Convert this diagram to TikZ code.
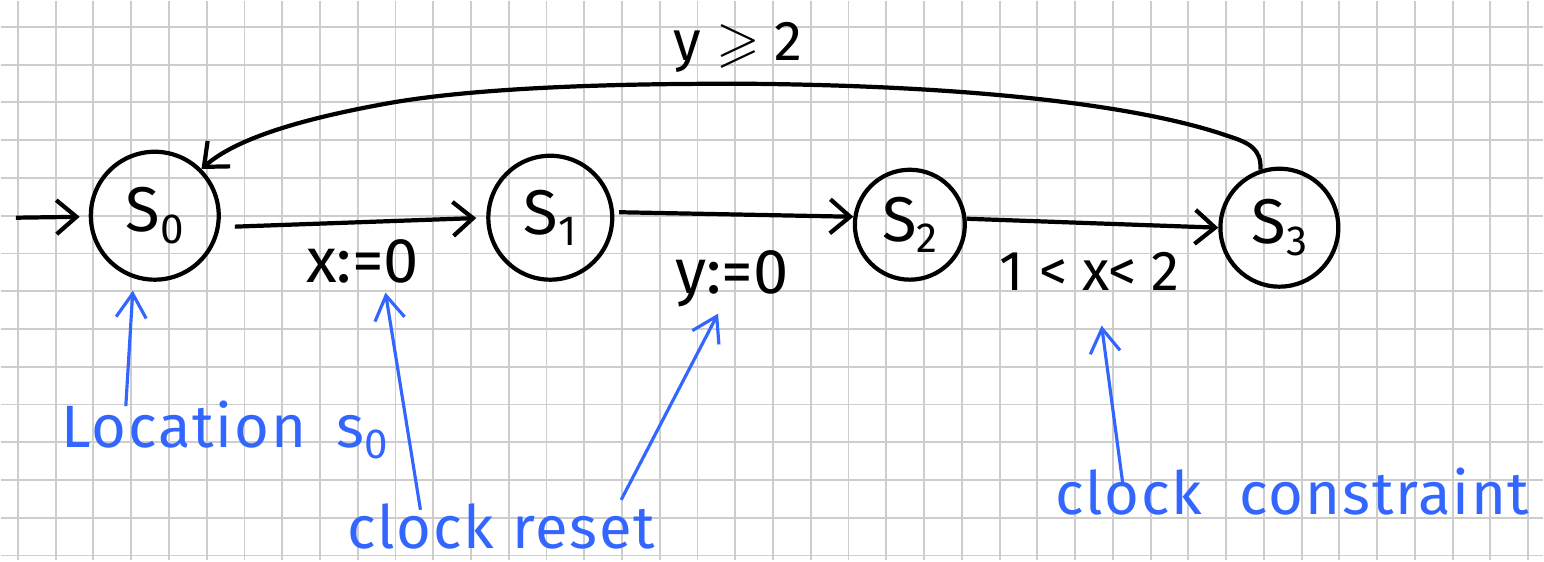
\documentclass[tikz,border=0pt]{standalone}
\usepackage{fontspec}
\usepackage{amssymb}
\setmainfont{Fira Sans}
\usetikzlibrary{arrows.meta}

\definecolor{penblue}{RGB}{51,102,255}
\definecolor{gridgray}{RGB}{205,205,205}

\tikzset{
  state/.style={draw, circle, line width=1.2pt, inner sep=0pt, font=\fontsize{18}{20}\selectfont},
  trans/.style={line width=1.2pt, -{Straight Barb[length=2mm,width=3.4mm]}},
  guard/.style={inner sep=0pt, font=\fontsize{18}{20}\selectfont},
  note/.style={penblue, line width=0.9pt, -{Straight Barb[length=2.4mm,width=3mm]}},
  notetext/.style={inner sep=0pt, text=penblue, font=\fontsize{17}{19}\selectfont\addfontfeatures{LetterSpace=3}}
}
\newcommand{\idx}[1]{\raisebox{-0.35ex}{\fontsize{12}{13}\selectfont #1}}

\begin{document}
\begin{tikzpicture}[x=0.01cm, y=-0.01cm]
  % Фон и клетка
  \fill[white] (0,0) rectangle (1544,560);
  \foreach \i in {0,...,40}
    \draw[gridgray, line width=0.55pt] ({17+37.8*\i},0) -- ({17+37.8*\i},560);
  \foreach \j in {0,...,14}
    \draw[gridgray, line width=0.55pt] (0,{26+37.8*\j}) -- (1544,{26+37.8*\j});
  \useasboundingbox (0,0) rectangle (1544,560);

  % Состояния
  \node[state, minimum size=1.28cm] (S0) at (154,215) {S\idx{0}};
  \node[state, minimum size=1.24cm] (S1) at (550,217) {S\idx{1}};
  \node[state, minimum size=1.10cm] (S2) at (910,224) {S\idx{2}};
  \node[state, minimum size=1.18cm] (S3) at (1280,227) {S\idx{3}};

  % Начальная стрелка
  \coordinate (init) at (15,217);
  \draw[trans, shorten >=0.09cm] (init) -- (S0);

  % Переходы
  \draw[trans, shorten <=0.15cm, shorten >=0.1cm] (S0.-10) -- (S1.west);
  \draw[trans, shorten <=0.05cm] (S1.5) -- (S2.172);
  \draw[trans] (S2.6) -- (S3.west);
  % Обратный переход S3 -> S0
  \draw[trans] (S3.108) .. controls (1262,148) and (1250,142) .. (1228,135)
    .. controls (1150,108) and (1000,86) .. (760,83)
    .. controls (600,82) and (470,88) .. (390,102)
    .. controls (300,118) and (235,138) .. (S0.45);

  % Подписи переходов
  \node[guard, anchor=base] (reset0) at (362,282) {x:=0};
  \node[guard, anchor=base] (reset1) at (732,293) {y:=0};
  \node[guard, anchor=base, font=\fontsize{16}{18}\selectfont] (inv2) at (1090,290) {1 < x< 2};
  \node[guard, anchor=base, font=\fontsize{16}{18}\selectfont] (back) at (738,60) {y $\geqslant$ 2};

  % Синие пояснения
  \node[notetext, anchor=base] (loc) at (224,447) {Location\hspace{0.3cm}s\idx{0}};
  \node[notetext, anchor=base] (reset) at (501,548) {clock reset};
  \node[notetext, anchor=base] (constr) at (1293,514) {clock\hspace{0.2cm} constraint};

  \coordinate (locTip) at (132,290);
  \coordinate (resetTipA) at (385,292);
  \coordinate (resetTipB) at (718,313);
  \coordinate (constrTip) at (1102,325);
  \draw[note] ([shift={(-99,6)}]loc.north) -- (locTip);
  \draw[note] ([shift={(-81,7)}]reset.north) -- (resetTipA);
  \draw[note] ([shift={(120,-3)}]reset.north) -- (resetTipB);
  \draw[note] ([shift={(-170,15)}]constr.north) -- (constrTip);
\end{tikzpicture}
\end{document}
